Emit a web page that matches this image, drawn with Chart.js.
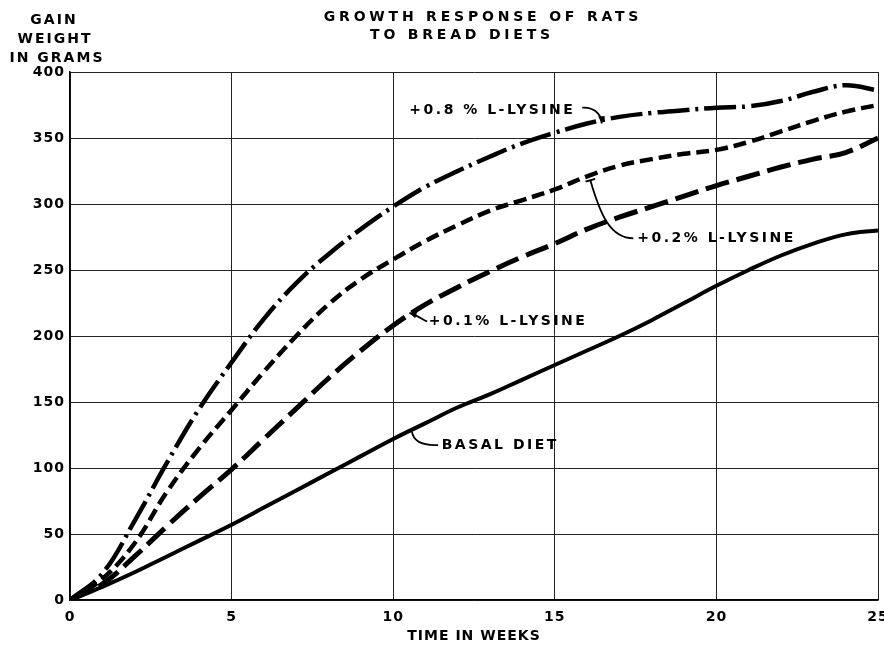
<!DOCTYPE html>
<html>
<head>
<meta charset="utf-8">
<script src="https://cdn.jsdelivr.net/npm/chart.js@4.4.0/dist/chart.umd.min.js"></script>
<style>
  html, body { margin: 0; padding: 0; background: #fff; }
  #wrap { width: 884px; height: 649px; position: relative; }
</style>
</head>
<body>
<div id="wrap"><canvas id="c" width="884" height="649"></canvas></div>
<script>
// ---- data ----
const weeks = [0,1,2,3,4,5,6,7,8,9,10,11,12,13,14,15,16,17,18,19,20,21,22,23,24,25];
const lysine08 = [0,20,60,104,145,180,213,240,262,281,298,313,325,336,346,354,361,366,369,371,373,374,378,385,390,386];
const lysine02 = [0,16,43,82,115,144,173,200,224,243,258,272,284,295,303,311,321,329,334,338,341,347,355,363,370,375];
const lysine01 = [0,12,33,56,78,99,122,145,168,189,208,224,237,249,260,270,281,290,298,306,314,321,328,334,339,350];
const basal    = [0,10,21,33,45,57,70,83,96,109,122,134,146,156,167,178,189,200,212,225,238,250,261,270,277,280];
const xTicks = [0,5,10,15,20,25];
const yTicks = [0,50,100,150,200,250,300,350,400];
const seriesNames = ['+0.8 % L-LYSINE','+0.2% L-LYSINE','+0.1% L-LYSINE','BASAL DIET'];
const titleLines = ['GROWTH RESPONSE OF RATS','TO BREAD DIETS'];
const yTitleLines = ['GAIN','WEIGHT','IN GRAMS'];
const xTitle = 'TIME IN WEEKS';

const FONT = '"DejaVu Sans", "Liberation Sans", sans-serif';

function pts(vals){ return weeks.map((w,i)=>({x:w,y:vals[i]})); }

// annotation layout in data units
const notes = [
  {text: seriesNames[0], at:[10.5,371], path:[[15.85,373],[16.3,373.5],[16.45,366],[16.45,361]], head:'arrow'},
  {text: seriesNames[1], at:[17.55,274], path:[[17.43,274],[16.72,274],[16.41,291.7],[16.1,318]], head:'bar'},
  {text: seriesNames[2], at:[11.1,211], path:[[11.05,211],[10.85,213.5],[10.7,216],[10.5,217.5]], head:'arrow'},
  {text: seriesNames[3], at:[11.5,117], path:[[11.39,117.4],[10.85,116.8],[10.62,121],[10.58,127.5]], head:'none'}
];

const bgPlugin = {
  id: 'bg',
  beforeDraw(chart){
    const c = chart.ctx;
    c.save(); c.fillStyle = '#fff'; c.fillRect(0,0,chart.width,chart.height); c.restore();
    c.letterSpacing = '1px';
  }
};

const textPlugin = {
  id: 'texts',
  afterDraw(chart){
    const c = chart.ctx, xs = chart.scales.x, ys = chart.scales.y;
    const P = (a)=>[xs.getPixelForValue(a[0]), ys.getPixelForValue(a[1])];
    c.save();
    c.fillStyle = '#000'; c.strokeStyle = '#000';
    // main title
    c.font = 'bold 14px ' + FONT;
    c.letterSpacing = '3.8px';
    c.textAlign = 'center'; c.textBaseline = 'middle';
    c.fillText(titleLines[0], 483, 17);
    c.fillText(titleLines[1], 462, 35);
    // y title
    c.letterSpacing = '2px';
    c.fillText(yTitleLines[0], 54, 20);
    c.fillText(yTitleLines[1], 55, 39);
    c.fillText(yTitleLines[2], 57, 58);
    // annotations
    c.font = 'bold 14px ' + FONT;
    c.letterSpacing = '2.5px';
    c.textAlign = 'left';
    notes.forEach(n=>{
      const [tx,ty] = P(n.at);
      c.fillText(n.text, tx, ty);
      const p = n.path.map(P);
      c.lineWidth = 1.8;
      c.beginPath();
      c.moveTo(p[0][0],p[0][1]);
      c.bezierCurveTo(p[1][0],p[1][1],p[2][0],p[2][1],p[3][0],p[3][1]);
      c.stroke();
      const ang = Math.atan2(p[3][1]-p[2][1], p[3][0]-p[2][0]);
      if(n.head==='arrow'){
        const L=8, W=0.45;
        c.beginPath();
        c.moveTo(p[3][0],p[3][1]);
        c.lineTo(p[3][0]-L*Math.cos(ang-W), p[3][1]-L*Math.sin(ang-W));
        c.lineTo(p[3][0]-L*Math.cos(ang+W), p[3][1]-L*Math.sin(ang+W));
        c.closePath(); c.fill();
      } else if(n.head==='bar'){
        const L=5;
        c.lineWidth = 2;
        c.beginPath();
        c.moveTo(p[3][0]+L*Math.cos(ang+Math.PI/2), p[3][1]+L*Math.sin(ang+Math.PI/2));
        c.lineTo(p[3][0]-L*Math.cos(ang+Math.PI/2), p[3][1]-L*Math.sin(ang+Math.PI/2));
        c.stroke();
      }
    });
    c.restore();
  }
};

const common = { fill:false, pointRadius:0, borderColor:'#000', tension:0.4, borderCapStyle:'butt', borderJoinStyle:'round' };

new Chart(document.getElementById('c'), {
  type: 'line',
  data: {
    datasets: [
      Object.assign({label: seriesNames[0], data: pts(lysine08), borderWidth:4.5, borderDash:[32,6,3,6]}, common),
      Object.assign({label: seriesNames[1], data: pts(lysine02), borderWidth:4.5, borderDash:[13,6]}, common),
      Object.assign({label: seriesNames[2], data: pts(lysine01), borderWidth:5, borderDash:[24,8]}, common),
      Object.assign({label: seriesNames[3], data: pts(basal), borderWidth:4}, common)
    ]
  },
  options: {
    responsive: false,
    animation: false,
    devicePixelRatio: 1,
    layout: { padding: { top: 72, right: 6, left: 0, bottom: 0 } },
    plugins: { legend: { display:false }, title: { display:false }, tooltip: { enabled:false } },
    scales: {
      x: {
        type: 'linear', min: 0, max: 25,
        afterBuildTicks(ax){ ax.ticks = xTicks.map(v=>({value:v})); },
        afterFit(ax){ ax.height = 49; ax.paddingRight = 0; ax.paddingLeft = 0; },
        grid: { color:'#222', lineWidth:1, drawTicks:false },
        border: { color:'#000', width:1.5 },
        ticks: { padding: 9, color:'#000', font:{ family: FONT, size: 14, weight:'bold' } },
        title: { display:true, text: xTitle, color:'#000', padding:{top:0,bottom:4}, font:{ family: FONT, size: 14, weight:'bold' } }
      },
      y: {
        type: 'linear', min: 0, max: 400,
        afterBuildTicks(ax){ ax.ticks = yTicks.map(v=>({value:v})); },
        afterFit(ax){ ax.width = 70; ax.paddingTop = 0; ax.paddingBottom = 0; },
        grid: { color:'#222', lineWidth:1, drawTicks:false },
        border: { color:'#000', width:1.5 },
        ticks: { padding: 5, color:'#000', font:{ family: FONT, size: 14, weight:'bold' } }
      }
    }
  },
  plugins: [bgPlugin, textPlugin]
});
</script>
</body>
</html>
